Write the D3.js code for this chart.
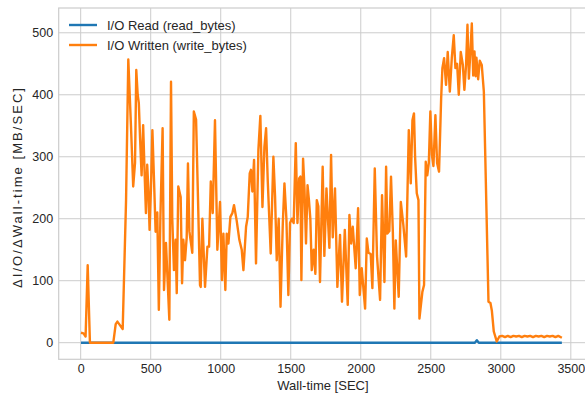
<!DOCTYPE html>
<html>
<head>
<meta charset="utf-8">
<script src="https://cdn.jsdelivr.net/npm/d3@7"></script>
<style>
  body { margin: 0; background: #fff; }
  svg { display: block; font-family: "Liberation Sans", Arial, sans-serif; }
</style>
</head>
<body>
<div id="chart"></div>
<script>
// Wall-time [SEC] and MB/SEC for written bytes
const writeTime = [2, 20, 35, 50, 66, 100, 150, 200, 233, 250, 262, 275, 300, 324, 340, 359, 375, 388, 397, 407,
  415, 424, 435, 446, 457, 466, 475, 483, 492, 502, 512, 524, 535, 547, 558, 569, 585, 595, 609, 633,
  645, 654, 666, 678, 686, 697, 714, 724, 733, 745, 757, 766, 776, 797, 808, 824, 838, 852, 857, 869,
  888, 905, 917, 929, 943, 959, 976, 995, 1009, 1019, 1033, 1043, 1055, 1069, 1083, 1095, 1114, 1133, 1150, 1162,
  1181, 1193, 1207, 1216, 1226, 1238, 1252, 1269, 1283, 1298, 1312, 1324, 1336, 1357, 1376, 1388, 1400, 1414, 1427, 1443,
  1455, 1469, 1483, 1495, 1508, 1521, 1536, 1548, 1560, 1569, 1576, 1588, 1598, 1609, 1620, 1630, 1640, 1650, 1664, 1676,
  1686, 1697, 1709, 1728, 1740, 1755, 1776, 1788, 1800, 1816, 1833, 1852, 1866, 1886, 1907, 1919, 1931, 1943, 1964, 1981,
  1993, 2007, 2031, 2043, 2055, 2071, 2083, 2100, 2116, 2138, 2152, 2169, 2181, 2190, 2204, 2216, 2229, 2240, 2250, 2271,
  2286, 2304, 2324, 2343, 2357, 2369, 2380, 2388, 2400, 2412, 2419, 2440, 2452, 2464, 2475, 2486, 2497, 2508, 2519, 2533,
  2545, 2559, 2574, 2583, 2595, 2609, 2621, 2636, 2650, 2664, 2676, 2688, 2700, 2714, 2729, 2740, 2752, 2762, 2772, 2783,
  2793, 2803, 2812, 2820, 2826, 2838, 2850, 2864, 2879, 2888, 2912, 2926, 2936, 2950, 2971, 2990, 3010, 3030, 3050, 3070,
  3090, 3110, 3130, 3150, 3170, 3190, 3210, 3230, 3250, 3270, 3290, 3310, 3330, 3350, 3370, 3390, 3410, 3436];
const writeRate = [16, 15, 10, 125, 0, 0, 0, 0, 0, 30, 34, 30, 22, 230, 457, 350, 252, 290, 440, 400,
  387, 330, 270, 351, 270, 209, 287, 250, 182, 250, 343, 260, 179, 210, 53, 200, 346, 85, 161, 37,
  421, 200, 117, 166, 80, 252, 235, 96, 166, 133, 170, 289, 180, 145, 373, 360, 230, 93, 90, 200,
  90, 155, 155, 260, 209, 359, 150, 227, 101, 176, 85, 176, 160, 203, 209, 222, 197, 166, 150, 117,
  187, 203, 273, 279, 244, 295, 128, 311, 366, 219, 316, 346, 260, 144, 300, 236, 133, 200, 58, 190,
  257, 200, 77, 193, 200, 193, 322, 193, 265, 268, 101, 297, 250, 160, 254, 230, 200, 117, 150, 111,
  230, 220, 98, 284, 140, 249, 153, 303, 170, 249, 90, 174, 66, 182, 61, 206, 160, 187, 120, 217,
  77, 120, 55, 168, 145, 143, 88, 281, 140, 69, 238, 98, 284, 176, 180, 268, 180, 55, 165, 74,
  227, 190, 139, 343, 257, 359, 370, 300, 241, 230, 39, 82, 93, 292, 270, 290, 373, 303, 285, 367,
  290, 276, 394, 443, 459, 416, 469, 405, 459, 496, 443, 450, 400, 469, 448, 408, 448, 513, 426, 470,
  515, 431, 470, 430, 460, 425, 455, 448, 405, 313, 66, 64, 52, 18, 2, 10, 11, 9, 11, 9,
  11, 10, 11, 9, 11, 10, 11, 9, 11, 10, 11, 9, 11, 10, 11, 9, 11, 8];

// read bytes stay near zero, small bump near 2830 s
const readTime = [2, 500, 1000, 1500, 2000, 2500, 2815, 2829, 2843, 3000, 3436];
const readRate = [0, 0, 0, 0, 0, 0, 0, 4, 0, 0, 0];

const xTicks = [0, 500, 1000, 1500, 2000, 2500, 3000, 3500];
const yTicks = [0, 100, 200, 300, 400, 500];

const W = 585, H = 395;
const plot = {left: 58.7, right: 587.2, top: 8, bottom: 359.3};

const svg = d3.select('#chart').append('svg')
  .attr('width', W)
  .attr('height', H);

const x = d3.scaleLinear().domain([-157, 3617]).range([plot.left, plot.right]);
const y = d3.scaleLinear().domain([-26.8, 540]).range([plot.bottom, plot.top]);

// grid
svg.append('g')
  .selectAll('line')
  .data(xTicks)
  .enter().append('line')
  .attr('x1', d => x(d)).attr('x2', d => x(d))
  .attr('y1', plot.top).attr('y2', plot.bottom)
  .attr('stroke', '#cccccc').attr('stroke-width', 1);

svg.append('g')
  .selectAll('line')
  .data(yTicks)
  .enter().append('line')
  .attr('x1', plot.left).attr('x2', plot.right)
  .attr('y1', d => y(d)).attr('y2', d => y(d))
  .attr('stroke', '#cccccc').attr('stroke-width', 1);

// frame
svg.append('rect')
  .attr('x', plot.left).attr('y', plot.top)
  .attr('width', plot.right - plot.left).attr('height', plot.bottom - plot.top)
  .attr('fill', 'none').attr('stroke', '#cccccc').attr('stroke-width', 1.2);

// axes (labels only, ticks hidden like seaborn whitegrid)
const xAxis = svg.append('g')
  .attr('transform', `translate(0,${plot.bottom})`)
  .call(d3.axisBottom(x).tickValues(xTicks).tickSize(0).tickPadding(5).tickFormat(d3.format('d')));
const yAxis = svg.append('g')
  .attr('transform', `translate(${plot.left},0)`)
  .call(d3.axisLeft(y).tickValues(yTicks).tickSize(0).tickPadding(5.5).tickFormat(d3.format('d')));

[xAxis, yAxis].forEach(g => {
  g.select('.domain').remove();
  g.selectAll('text')
    .attr('fill', '#262626')
    .attr('font-size', '12.5px')
    .attr('font-family', '"Liberation Sans", Arial, sans-serif');
});

// lines
const line = d3.line()
  .x(d => x(d[0]))
  .y(d => y(d[1]));

const readData = readTime.map((t, i) => [t, readRate[i]]);
const writeData = writeTime.map((t, i) => [t, writeRate[i]]);

svg.append('path')
  .datum(readData)
  .attr('d', line)
  .attr('fill', 'none')
  .attr('stroke', '#1f77b4')
  .attr('stroke-width', 2.4)
  .attr('stroke-linejoin', 'round');

svg.append('path')
  .datum(writeData)
  .attr('d', line)
  .attr('fill', 'none')
  .attr('stroke', '#ff7f0e')
  .attr('stroke-width', 2.4)
  .attr('stroke-linejoin', 'round');

// axis titles
svg.append('text')
  .attr('x', (plot.left + plot.right) / 2)
  .attr('y', 390)
  .attr('text-anchor', 'middle')
  .attr('font-size', '13px')
  .attr('fill', '#262626')
  .text('Wall-time [SEC]');

svg.append('text')
  .attr('transform', `translate(22,188) rotate(-90)`)
  .attr('text-anchor', 'middle')
  .attr('font-size', '13px')
  .attr('textLength', 200)
  .attr('lengthAdjust', 'spacing')
  .attr('fill', '#262626')
  .text('ΔI/O/ΔWall-time [MB/SEC]');

// legend
const legendItems = [
  {label: 'I/O Read (read_bytes)', color: '#1f77b4'},
  {label: 'I/O Written (write_bytes)', color: '#ff7f0e'}
];

const legend = svg.append('g');
legendItems.forEach((d, i) => {
  const ly = 25 + i * 20;
  legend.append('line')
    .attr('x1', 69).attr('x2', 97)
    .attr('y1', ly).attr('y2', ly)
    .attr('stroke', d.color)
    .attr('stroke-width', 2.4);
  legend.append('text')
    .attr('x', 107)
    .attr('y', ly + 4.5)
    .attr('font-size', '13px')
    .attr('fill', '#262626')
    .text(d.label);
});
</script>
</body>
</html>
